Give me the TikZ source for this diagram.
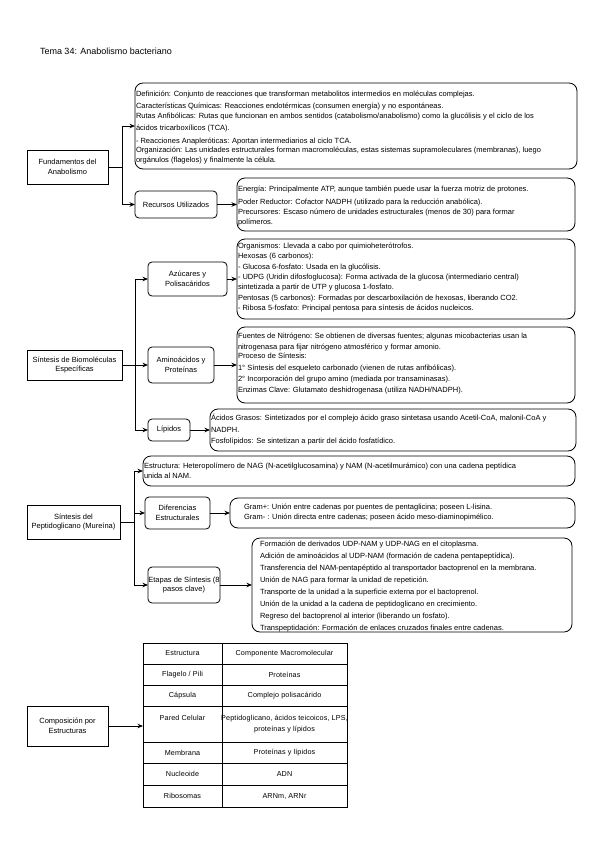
\documentclass[tikz,border=0pt]{standalone}
\usepackage{fontspec}
\setmainfont{Liberation Sans}
\newfontfamily\tblfont[LetterSpace=2]{Liberation Sans}
\usetikzlibrary{arrows.meta}

\begin{document}
\begin{tikzpicture}[x=1pt,y=-1pt,
  every node/.style={inner sep=0pt, outer sep=0pt, font=\fontsize{7.5}{9.5}\selectfont},
  sqbox/.style={draw, line width=0.8pt, align=center},
  rbox/.style={draw, line width=0.8pt, rounded corners=4pt, align=center},
  bigbox/.style={draw, line width=0.8pt, rounded corners=8pt},
  txt/.style={align=left, anchor=west},
  conn/.style={line width=0.9pt, -{Stealth[length=5.5pt,width=4.5pt]}},
  wire/.style={line width=0.9pt},
  cell/.style={font=\tblfont\fontsize{7.2}{11.5}\selectfont, align=center},
  grid/.style={line width=0.7pt}
]
\useasboundingbox (0,0) rectangle (599,848);

\node[anchor=west, font=\fontsize{9}{11}\selectfont] (title) at (40,51) {Tema 34: Anabolismo bacteriano};

% ---------------- Group 1
\node[sqbox, minimum width=81pt, minimum height=34pt] (fund) at (67.5,167) {Fundamentos del\\Anabolismo};
\node[bigbox, minimum width=442pt, minimum height=86pt] (b1) at (356,126) {};
\node[txt] (b1t) at (136,127.5) {Definición: Conjunto de reacciones que transforman metabolitos intermedios en moléculas complejas.\\[3pt]
Características Químicas: Reacciones endotérmicas (consumen energía) y no espontáneas.\\
Rutas Anfibólicas: Rutas que funcionan en ambos sentidos (catabolismo/anabolismo) como la glucólisis y el ciclo de los\\[3pt]
ácidos tricarboxílicos (TCA).\\[3pt]
- Reacciones Anapleróticas: Aportan intermediarios al ciclo TCA.\\
Organización: Las unidades estructurales forman macromoléculas, estas sistemas supramoleculares (membranas), luego\\
orgánulos (flagelos) y finalmente la célula.};
\node[rbox, minimum width=82pt, minimum height=27pt] (rec) at (176,204.5) {Recursos Utilizados};
\node[bigbox, minimum width=338pt, minimum height=53pt] (b2) at (406,204.5) {};
\node[txt] (b2t) at (238,206) {Energía: Principalmente ATP, aunque también puede usar la fuerza motriz de protones.\\[3pt]
Poder Reductor: Cofactor NADPH (utilizado para la reducción anabólica).\\[1pt]
Precursores: Escaso número de unidades estructurales (menos de 30) para formar\\
polímeros.};
\coordinate (j1) at (122,167);
\draw[wire] (fund.east) -- (j1);
\draw[conn] (j1) |- (b1.west);
\draw[conn] (j1) |- (rec.west);
\draw[conn] (rec.east) -- (b2.west);

% ---------------- Group 2
\node[sqbox, minimum width=95pt, minimum height=30pt] (sin) at (74.5,365) {Síntesis de Biomoléculas\\Específicas};
\coordinate (j2) at (135,365);
\node[rbox, minimum width=79pt, minimum height=34pt] (azu) at (187.5,279) {Azúcares y\\Polisacáridos};
\node[bigbox, minimum width=338pt, minimum height=80pt] (b3) at (406,279) {};
\node[txt] (b3t) at (238,277.5) {Organismos: Llevada a cabo por quimioheterótrofos.\\[0.8pt]
Hexosas (6 carbonos):\\[0.8pt]
- Glucosa 6-fosfato: Usada en la glucólisis.\\[0.8pt]
- UDPG (Uridin difosfoglucosa): Forma activada de la glucosa (intermediario central)\\[0.8pt]
sintetizada a partir de UTP y glucosa 1-fosfato.\\[0.8pt]
Pentosas (5 carbonos): Formadas por descarboxilación de hexosas, liberando CO2.\\[0.8pt]
- Ribosa 5-fosfato: Principal pentosa para síntesis de ácidos nucleicos.};
\node[rbox, minimum width=66pt, minimum height=36pt] (ami) at (181,365) {Aminoácidos y\\Proteínas};
\node[bigbox, minimum width=338pt, minimum height=76pt] (b4) at (406,365) {};
\node[txt] (b4t) at (238,363.5) {Fuentes de Nitrógeno: Se obtienen de diversas fuentes; algunas micobacterias usan la\\[1.5pt]
nitrogenasa para fijar nitrógeno atmosférico y formar amonio.\\
Proceso de Síntesis:\\[2.5pt]
1° Síntesis del esqueleto carbonado (vienen de rutas anfibólicas).\\[1.5pt]
2° Incorporación del grupo amino (mediada por transaminasas).\\[1.5pt]
Enzimas Clave: Glutamato deshidrogenasa (utiliza NADH/NADPH).};
\node[rbox, minimum width=42pt, minimum height=22pt] (lip) at (169,430) {Lípidos};
\node[bigbox, minimum width=366pt, minimum height=42pt] (b5) at (393,430) {};
\node[txt] (b5t) at (211,430) {Ácidos Grasos: Sintetizados por el complejo ácido graso sintetasa usando Acetil-CoA, malonil-CoA y\\[2.5pt]
NADPH.\\[1.5pt]
Fosfolípidos: Se sintetizan a partir del ácido fosfatídico.};
\draw[wire] (sin.east) -- (j2);
\draw[conn] (j2) |- (azu.west);
\draw[conn] (j2) -- (ami.west);
\draw[conn] (j2) |- (lip.west);
\draw[conn] (azu.east) -- (b3.west);
\draw[conn] (ami.east) -- (b4.west);
\draw[conn] (lip.east) -- (b5.west);

% ---------------- Group 3
\node[sqbox, minimum width=93pt, minimum height=34pt] (pep) at (73.5,522) {Síntesis del\\Peptidoglicano (Mureína)};
\coordinate (j3) at (134,522);
\node[bigbox, minimum width=432pt, minimum height=30pt] (est) at (359,471) {};
\node[txt] (estt) at (144,471) {Estructura: Heteropolímero de NAG (N-acetilglucosamina) y NAM (N-acetilmurámico) con una cadena peptídica\\[1pt]
unida al NAM.};
\node[rbox, minimum width=65pt, minimum height=32pt] (dif) at (177.5,513) {Diferencias\\Estructurales};
\node[bigbox, minimum width=345pt, minimum height=30pt] (gram) at (402.5,513) {};
\node[txt] (gramt) at (244,513) {Gram+: Unión entre cadenas por puentes de pentaglicina; poseen L-lisina.\\[0.5pt]
Gram- : Unión directa entre cadenas; poseen ácido meso-diaminopimélico.};
\node[rbox, minimum width=72pt, minimum height=36pt] (eta) at (184,585) {Etapas de Síntesis (8\\pasos clave)};
\node[bigbox, minimum width=320pt, minimum height=94pt] (b6) at (412,585) {};
\node[txt, font=\fontsize{7.5}{12}\selectfont] (b6t) at (260,587) {Formación de derivados UDP-NAM y UDP-NAG en el citoplasma.\\
Adición de aminoácidos al UDP-NAM (formación de cadena pentapeptídica).\\
Transferencia del NAM-pentapéptido al transportador bactoprenol en la membrana.\\
Unión de NAG para formar la unidad de repetición.\\
Transporte de la unidad a la superficie externa por el bactoprenol.\\
Unión de la unidad a la cadena de peptidoglicano en crecimiento.\\
Regreso del bactoprenol al interior (liberando un fosfato).\\
Transpeptidación: Formación de enlaces cruzados finales entre cadenas.};
\draw[wire] (pep.east) -- (j3);
\draw[conn] (j3) |- (est.west);
\draw[conn] (j3) |- (dif.west);
\draw[conn] (j3) |- (eta.west);
\draw[conn] (dif.east) -- (gram.west);
\draw[conn] (eta.east) -- (b6.west);

% ---------------- Group 4 (table)
\node[sqbox, minimum width=81pt, minimum height=40pt] (comp) at (67.5,726) {Composición por\\Estructuras};
\node[draw, grid, minimum width=204pt, minimum height=164pt] (tbl) at (245,725) {};
\draw[grid] (222,643) -- (222,807);
\foreach \yy in {664,685,706,742,763,785} \draw[grid] (143,\yy) -- (347,\yy);
\node[cell] (r1a) at (182.5,653.5) {Estructura};
\node[cell] (r1b) at (284.5,653.5) {Componente Macromolecular};
\node[cell] (r2a) at (182.5,674.5) {Flagelo / Pili};
\node[cell] (r2b) at (284.5,674.5) {Proteínas};
\node[cell] (r3a) at (182.5,695.5) {Cápsula};
\node[cell] (r3b) at (284.5,695.5) {Complejo polisacárido};
\node[cell] (r4a) at (182.5,718) {Pared Celular};
\node[cell] (r4b) at (284.5,724) {Peptidoglicano, ácidos teicoicos, LPS,\\proteínas y lípidos};
\node[cell] (r5a) at (182.5,752.5) {Membrana};
\node[cell] (r5b) at (284.5,752.5) {Proteínas y lípidos};
\node[cell] (r6a) at (182.5,774) {Nucleoide};
\node[cell] (r6b) at (284.5,774) {ADN};
\node[cell] (r7a) at (182.5,796) {Ribosomas};
\node[cell] (r7b) at (284.5,796) {ARNm, ARNr};
\draw[conn] (comp.east) -- (comp.east -| tbl.west);
\end{tikzpicture}
\end{document}
